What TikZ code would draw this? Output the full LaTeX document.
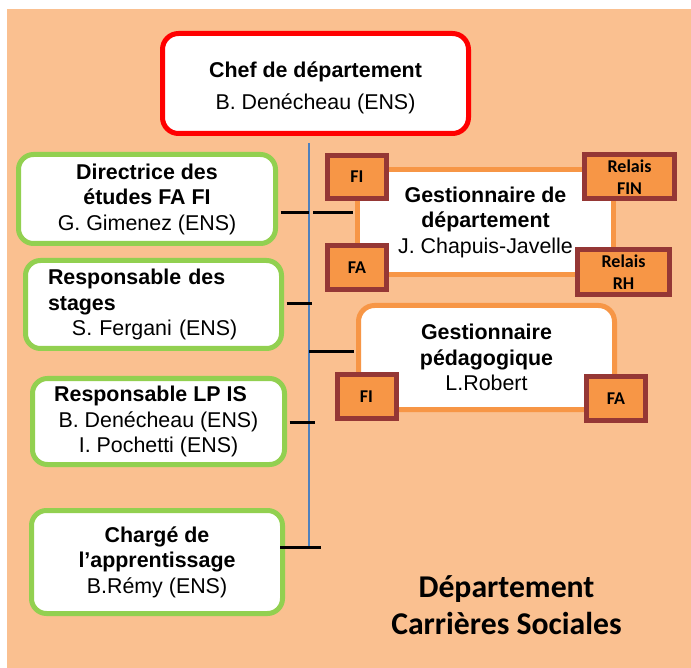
\documentclass[tikz,border=0pt]{standalone}
\usepackage{fontspec}
\setmainfont{Liberation Sans}
\newfontfamily\calib{Carlito}
\usetikzlibrary{positioning}
\definecolor{bgorange}{HTML}{FAC090}
\definecolor{chefred}{HTML}{FF0000}
\definecolor{boxgreen}{HTML}{92D050}
\definecolor{boxorange}{HTML}{F79646}
\definecolor{tagred}{HTML}{953735}
\definecolor{spineblue}{HTML}{4F81BD}
\begin{document}
\begin{tikzpicture}[x=1pt, y=-1pt,
    chefbox/.style={draw=chefred, line width=5pt, rounded corners=16pt, fill=white, align=center},
    greenbox/.style={draw=boxgreen, line width=5pt, rounded corners=15pt, fill=white, align=center},
    gestbox/.style={draw=boxorange, line width=5pt, fill=white, align=center},
    tag/.style={draw=tagred, line width=5pt, fill=boxorange, align=center, inner sep=0pt,
        font={\calib\bfseries\fontsize{18}{21.5}\selectfont}, minimum width=59pt, minimum height=43pt},
    tick/.style={line width=3pt, black}]
    \tikzset{font={\fontsize{21.4}{25.5}\selectfont}}
    \useasboundingbox (0,0) rectangle (691,668);
    \fill [bgorange] (7,9) rectangle (691,668);
    \node [chefbox, minimum width=306pt, minimum height=100pt, font={\fontsize{21.4}{32}\selectfont}] (chef) at (315.5,83.5) {\rule{0pt}{23.5pt}\textbf{Chef de département}\\B. Denécheau (ENS)};
    \node [greenbox, minimum width=257pt, minimum height=89pt] (dir) at (147,199) {\textbf{Directrice des}\\\textbf{études FA FI}\\G. Gimenez (ENS)};
    \node [greenbox, minimum width=256pt, minimum height=88pt, text width=211pt, align=left] (stage) at (153.5,304.5) {\textbf{Responsable des}\\\textbf{stages}\\\hspace*{24pt}S. Fergani (ENS)};
    \node [greenbox, minimum width=252pt, minimum height=86pt] (lpis) at (158.5,421.5) {\textbf{Responsable LP IS}\hspace*{16pt}\\B. Denécheau (ENS)\\I. Pochetti (ENS)};
    \node [greenbox, minimum width=251pt, minimum height=103pt] (appr) at (157,562) {\textbf{Chargé de}\\\textbf{l’apprentissage}\\B.Rémy (ENS)};
    \node [gestbox, minimum width=256pt, minimum height=105pt] (gdep) at (485.5,222) {\textbf{Gestionnaire de}\\\textbf{département}\\J. Chapuis-Javelle};
    \node [gestbox, rounded corners=16pt, minimum width=256pt, minimum height=104pt] (gped) at (486.5,357.5) {\textbf{Gestionnaire}\\\textbf{pédagogique}\\L.Robert};
    \node [tag] (gdfi) at (357,177) {FI};
    \node [tag, minimum width=90pt, minimum height=44pt] (gdfin) at (629.5,177) {Relais\\FIN};
    \node [tag, minimum height=44pt] (gdfa) at (357,267.5) {FA};
    \node [tag, minimum width=92pt, minimum height=45pt] (gdrh) at (623.5,272) {Relais\\RH};
    \node [tag, minimum height=44pt] (gpfi) at (366.5,396.5) {FI};
    \node [tag, minimum height=44pt] (gpfa) at (616,398.5) {FA};
    \node [inner sep=0pt, align=center, font={\calib\bfseries\fontsize{31.7}{37}\selectfont}] (title) at (506.5,605) {Département\\Carrières Sociales};
    \coordinate (top) at (309,143);
    \coordinate (s1) at (309,213);
    \coordinate (s2) at (309,304);
    \coordinate (s3) at (309,352);
    \coordinate (s4) at (309,422);
    \coordinate (s5) at (309,547);
    \draw [spineblue, line width=1.3pt] (top) -- (s5);
    \draw [tick, shorten <=2.5pt] (dir.east |- s1) -- (s1);
    \draw [tick, shorten >=2.5pt] ([xshift=4pt]s1) -- (s1 -| gdep.west);
    \draw [tick, shorten <=2.5pt] (stage.east |- s2) -- ([xshift=3pt]s2);
    \draw [tick, shorten >=2.5pt] (s3) -- (s3 -| gped.west);
    \draw [tick, shorten <=2.5pt] (lpis.east |- s4) -- ([xshift=6pt]s4);
    \draw [tick] ([xshift=-5pt]appr.east |- s5) -- ([xshift=12pt]s5);
\end{tikzpicture}
\end{document}
